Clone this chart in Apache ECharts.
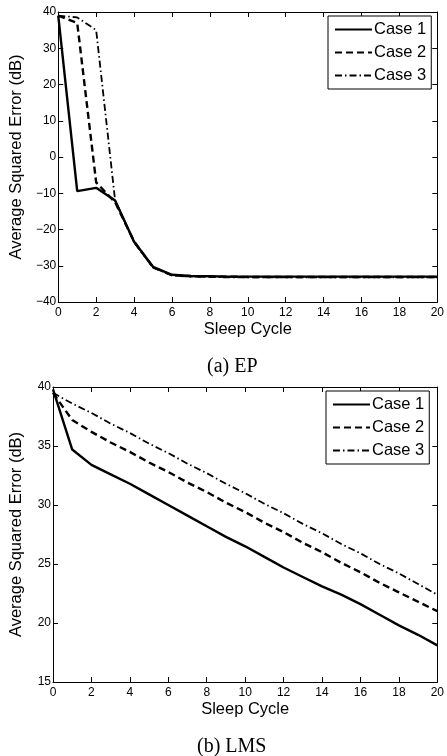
<!DOCTYPE html>
<html>
<head>
<meta charset="utf-8">
<script src="https://cdn.jsdelivr.net/npm/echarts@6/dist/echarts.min.js"></script>
<style>
  html, body { margin: 0; padding: 0; background: #fff; }
  #chart { width: 447px; height: 756px; }
</style>
</head>
<body>
<div id="chart"></div>
<script>
const sleepCycles = [0, 1, 2, 3, 4, 5, 6, 7, 8, 9, 10, 11, 12, 13, 14, 15, 16, 17, 18, 19, 20];
const caseNames = ['Case 1', 'Case 2', 'Case 3'];

// (a) EP
const epCase1 = [39, -9.4, -8.5, -12, -23.4, -30.3, -32.5, -32.8, -32.9, -33, -33, -33, -33, -33, -33, -33, -33, -33, -33, -33, -33];
const epCase2 = [39, 37, -7, -12.5, -23.3, -30.4, -32.6, -32.9, -33, -33, -33.1, -33.1, -33.1, -33.1, -33.1, -33.1, -33.1, -33.1, -33.1, -33.1, -33.1];
const epCase3 = [39, 38.5, 35, -12, -23.5, -30.5, -32.7, -33, -33.1, -33.2, -33.2, -33.2, -33.2, -33.2, -33.2, -33.2, -33.2, -33.2, -33.2, -33.2, -33.2];

// (b) LMS
const lmsCase1 = [39.8, 34.7, 33.4, 32.6, 31.8, 30.9, 30.0, 29.1, 28.2, 27.3, 26.5, 25.6, 24.7, 23.9, 23.1, 22.4, 21.6, 20.7, 19.8, 19.0, 18.1];
const lmsCase2 = [39.5, 37.2, 36.2, 35.3, 34.5, 33.6, 32.8, 31.9, 31.1, 30.2, 29.4, 28.5, 27.7, 26.8, 26.0, 25.1, 24.3, 23.4, 22.6, 21.8, 21.0];
const lmsCase3 = [39.5, 38.6, 37.8, 36.9, 36.1, 35.2, 34.4, 33.5, 32.7, 31.8, 31.0, 30.1, 29.3, 28.4, 27.6, 26.7, 25.9, 25.0, 24.2, 23.3, 22.4];

const epTicks = { min: -40, max: 40, interval: 10 };
const lmsTicks = { min: 15, max: 40, interval: 5 };

const sans = 'Liberation Sans';
const serif = 'Liberation Serif';

const lineStyles = [
  { color: '#000', width: 2.4, type: 'solid' },
  { color: '#000', width: 2.4, type: [7, 4] },
  { color: '#000', width: 1.8, type: [7, 3, 1.5, 3] }
];

const pairs = (ys) => sleepCycles.map((x, i) => [x, ys[i]]);

const boxLine = { show: true, onZero: false, lineStyle: { color: '#000', width: 1 } };
const inTick = { show: true, inside: true, length: 5, lineStyle: { color: '#000' } };

function xAxes(gridIndex) {
  return [
    {
      type: 'value', gridIndex: gridIndex, position: 'bottom', min: 0, max: 20, interval: 2,
      axisLine: boxLine, axisTick: inTick, splitLine: { show: false },
      axisLabel: { color: '#000', fontSize: 12, fontFamily: sans, margin: 5 },
      name: 'Sleep Cycle', nameLocation: 'middle', nameGap: 19,
      nameTextStyle: { color: '#000', fontSize: 16.5, fontFamily: sans }
    },
    {
      type: 'value', gridIndex: gridIndex, position: 'top', min: 0, max: 20, interval: 2,
      axisLine: boxLine, axisTick: inTick, splitLine: { show: false }, axisLabel: { show: false }
    }
  ];
}

function yAxes(gridIndex, ticks, gap) {
  return [
    {
      type: 'value', gridIndex: gridIndex, position: 'left', min: ticks.min, max: ticks.max, interval: ticks.interval,
      axisLine: boxLine, axisTick: inTick, splitLine: { show: false },
      axisLabel: {
        color: '#000', fontSize: 12, fontFamily: sans, margin: 2,
        formatter: (v) => String(v).replace('-', '\u2212')
      },
      name: 'Average Squared Error (dB)', nameLocation: 'middle', nameGap: gap, nameRotate: 90,
      nameTextStyle: { color: '#000', fontSize: 16.5, fontFamily: sans }
    },
    {
      type: 'value', gridIndex: gridIndex, position: 'right', min: ticks.min, max: ticks.max, interval: ticks.interval,
      axisLine: boxLine, axisTick: inTick, splitLine: { show: false }, axisLabel: { show: false }
    }
  ];
}

function makeSeries(datasets, axisIndex) {
  return datasets.map((d, i) => ({
    name: caseNames[i],
    type: 'line',
    xAxisIndex: axisIndex,
    yAxisIndex: axisIndex,
    data: pairs(d),
    symbol: 'none',
    lineStyle: lineStyles[i],
    z: 3 - i
  }));
}

function makeLegend(top, left) {
  return {
    data: caseNames,
    orient: 'vertical',
    top: top,
    left: left,
    itemWidth: 37,
    itemHeight: 14,
    itemGap: 6,
    padding: [5, 5, 5, 6],
    backgroundColor: '#fff',
    borderColor: '#000',
    borderWidth: 1,
    selectedMode: false,
    itemStyle: { opacity: 0 },
    textStyle: { color: '#000', fontSize: 16.5, fontFamily: sans, padding: [0, 0, 0, -3] }
  };
}

const chart = echarts.init(document.getElementById('chart'));
chart.setOption({
  animation: false,
  backgroundColor: '#fff',
  title: [
    { text: '(a) EP', left: 202, top: 352, textStyle: { color: '#000', fontSize: 20, fontWeight: 'normal', fontFamily: serif } },
    { text: '(b) LMS', left: 192, top: 732, textStyle: { color: '#000', fontSize: 20, fontWeight: 'normal', fontFamily: serif } }
  ],
  grid: [
    { left: 52, top: 12, right: 7, height: 290 },
    { left: 49, top: 387, right: 7, height: 295 }
  ],
  legend: [makeLegend(16, 328), makeLegend(391, 326)],
  xAxis: [...xAxes(0), ...xAxes(1)],
  yAxis: [...yAxes(0, epTicks, 31), ...yAxes(1, lmsTicks, 28)],
  series: [
    ...makeSeries([epCase1, epCase2, epCase3], 0),
    ...makeSeries([lmsCase1, lmsCase2, lmsCase3], 2)
  ]
});
</script>
</body>
</html>
